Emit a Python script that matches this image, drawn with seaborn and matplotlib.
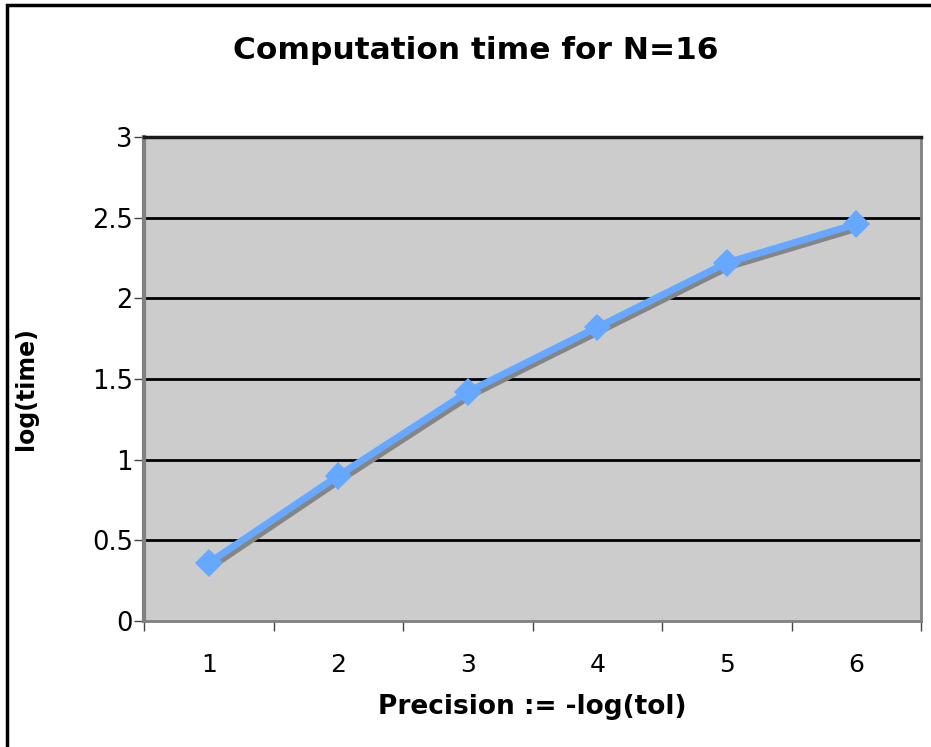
import matplotlib
matplotlib.use("Agg")
import matplotlib.pyplot as plt
import matplotlib.patheffects as pe
from matplotlib.patches import Rectangle
import numpy as np
import pandas as pd
import seaborn as sns

# Data
precision = [1, 2, 3, 4, 5, 6]
log_time = [0.36, 0.90, 1.42, 1.82, 2.22, 2.46]
y_ticks = [0, 0.5, 1, 1.5, 2, 2.5, 3]
y_tick_labels = ["0", "0.5", "1", "1.5", "2", "2.5", "3"]

df = pd.DataFrame({"precision": precision, "log_time": log_time})

plt.rcParams["font.family"] = ["DejaVu Sans"]

fig = plt.figure(figsize=(9.31, 7.47), dpi=100)
fig.patch.set_facecolor("white")
ax = fig.add_axes([0.1547, 0.1687, 0.8346, 0.6479])
ax.set_facecolor("#cccccc")

# Horizontal gridlines
for yv in y_ticks[1:-1]:
    ax.axhline(yv, color="black", lw=2, zorder=1)

sns.lineplot(data=df, x="precision", y="log_time", ax=ax, color="#66a8ff",
             lw=5, marker="D", markersize=14, markeredgewidth=0,
             zorder=3,
             path_effects=[pe.SimpleLineShadow(offset=(2, -2.5), shadow_color="#858585", alpha=1.0),
                           pe.Normal()])

ax.set_xlim(0.5, 6.5)
ax.set_ylim(0, 3)
ax.set_xticks(precision)
ax.set_xticklabels([str(p) for p in precision])
ax.set_xticks(np.arange(0.5, 7.0, 1.0), minor=True)
ax.tick_params(axis="x", which="major", length=0, pad=23, labelsize=18)
ax.tick_params(axis="x", which="minor", length=7, width=1, color="#444444", direction="out")
ax.set_yticks(y_ticks)
ax.set_yticklabels(y_tick_labels)
ax.tick_params(axis="y", length=7, width=1, color="#444444", labelsize=18.5, pad=1)

for side in ["left", "top"]:
    ax.spines[side].set_color("#808080")
    ax.spines[side].set_linewidth(3)
for side in ["right", "bottom"]:
    ax.spines[side].set_color("#808080")
    ax.spines[side].set_linewidth(2)
ax.spines["top"].set_color("#1a1a1a")
ax.spines["top"].set_linewidth(2.5)

ax.set_xlabel("Precision := -log(tol)", fontsize=19, fontweight="bold", labelpad=12)
ax.set_ylabel("log(time)", fontsize=17, fontweight="bold")
ax.yaxis.set_label_coords(-0.136, 0.48)

fig.text(0.5105, 0.933, "Computation time for N=16", ha="center", va="center",
         fontsize=22.5, fontweight="bold")

# Chart frame
fig.patches.append(Rectangle((7 / 931, -0.1), 1.2, 1.1 - 5 / 747, transform=fig.transFigure,
                             fill=False, edgecolor="black", lw=2.5, zorder=10))

fig.savefig("out.png", dpi=100, facecolor="white")
